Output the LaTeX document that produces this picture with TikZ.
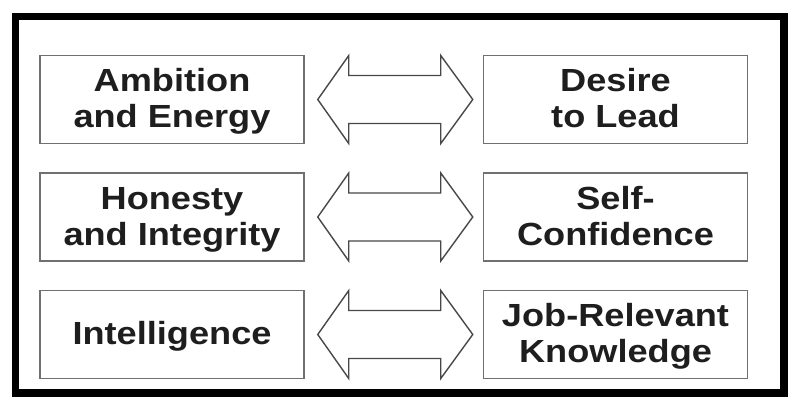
\documentclass[tikz,border=0pt]{standalone}
\usepackage{fontspec}
\newfontfamily\boxfont{Liberation Sans}[FakeStretch=1.13]
\usetikzlibrary{calc}
\definecolor{boxgray}{HTML}{707070}
\definecolor{arrgray}{HTML}{484848}
\definecolor{txt}{HTML}{1E1E1E}
\newcommand\ls{\strut}
\tikzset{
  trait/.style={draw=boxgray, line width=1.5pt, minimum width=264pt, minimum height=88pt,
    inner sep=0pt, align=center, text=txt,
    font=\boxfont\bfseries\fontsize{32}{36}\selectfont},
  traittext/.style={inner sep=0pt, align=center, text=txt, yshift=-3pt,
    font=\boxfont\bfseries\fontsize{32}{36}\selectfont},
  fatarrow/.style={draw=arrgray, line width=1.4pt, line join=miter, fill=white}
}
\begin{document}
\begin{tikzpicture}[x=1pt,y=-1pt]
\useasboundingbox (0,0) rectangle (799,410);
\fill[white] (0,0) rectangle (799,410);
\draw[line width=7.5pt] (15.5,16.5) rectangle (784,393);

\node[trait] (L1) at (172,99.5) {};
\node[trait] (L2) at (172,217) {};
\node[trait] (L3) at (172,334.5) {};
\node[trait] (R1) at (615.5,99.5) {};
\node[trait] (R2) at (615.5,217) {};
\node[trait] (R3) at (615.5,334.5) {};
\node[traittext] (tL1) at (L1) {\ls Ambition\\\ls and Energy};
\node[traittext] (tL2) at (L2) {\ls Honesty\\\ls and Integrity};
\node[traittext] (tL3) at (L3) {\ls Intelligence};
\node[traittext] (tR1) at (R1) {\ls Desire\\\ls to Lead};
\node[traittext] (tR2) at (R2) {\ls Self-\\\ls Confidence};
\node[traittext] (tR3) at (R3) {\ls Job-Relevant\\\ls Knowledge};

\foreach \i in {1,2,3}{
  \coordinate (A\i) at ($(L\i.east)+(13,0)$);
  \draw[fatarrow] (A\i) -- ++(31,-44) -- ++(0,20) -- ++(92,0) -- ++(0,-20)
    -- ++(32,44) -- ++(-32,44) -- ++(0,-20) -- ++(-92,0) -- ++(0,20) -- cycle;
}
\end{tikzpicture}
\end{document}
